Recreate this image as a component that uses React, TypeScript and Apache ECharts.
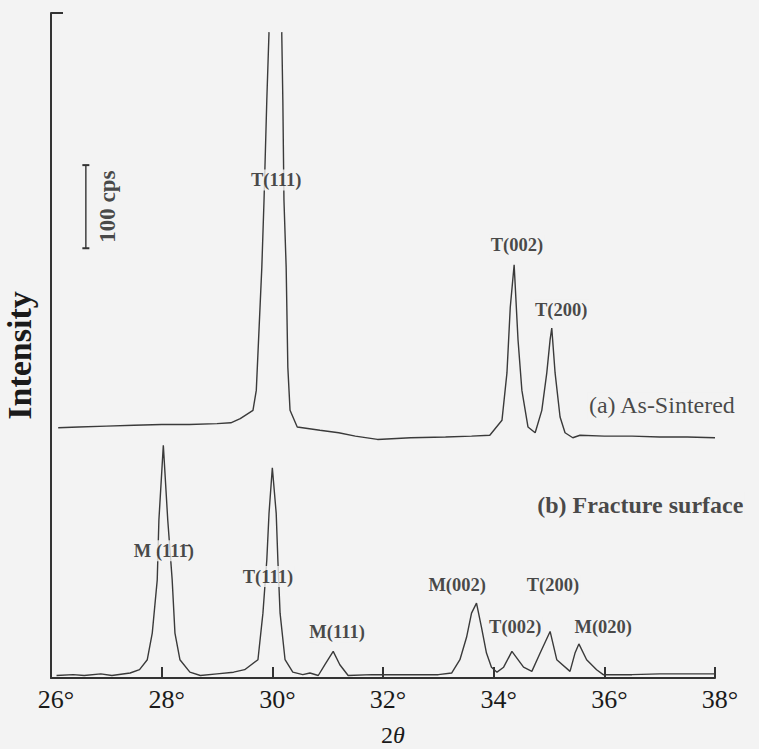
import React, { useEffect, useRef } from 'react';
import * as echarts from 'echarts';

// (a) As-Sintered pattern: 2θ (deg) and intensity (cps, offset); null = trace leaves the frame
const twoThetaA = [26.13, 26.5, 27.0, 27.5, 28.0, 28.5, 29.0, 29.25, 29.42, 29.65, 29.71, 29.81, 29.85, 29.9, 29.94, 30.05, 30.17, 30.19, 30.21, 30.25, 30.28, 30.32, 30.45, 30.86, 31.2, 31.5, 31.9, 32.5, 33.13, 33.6, 33.93, 34.15, 34.24, 34.3, 34.37, 34.44, 34.51, 34.62, 34.75, 34.87, 34.96, 35.02, 35.05, 35.11, 35.2, 35.29, 35.43, 35.56, 36.0, 36.5, 37.0, 37.5, 38.0];
const intensityA = [301, 302, 303, 304, 305, 305, 306, 307, 312, 322, 346, 494, 575, 695, 777, null, 777, 695, 575, 494, 374, 322, 302, 298, 295, 291, 287, 289, 290, 291, 292, 310, 367, 446, 497, 407, 346, 302, 295, 322, 367, 407, 421, 367, 314, 295, 289, 292, 291, 291, 290, 290, 289];

// (b) Fracture surface pattern
const twoThetaB = [26.1, 26.4, 26.6, 26.9, 27.1, 27.43, 27.6, 27.74, 27.83, 27.92, 27.95, 28.03, 28.11, 28.19, 28.24, 28.33, 28.51, 28.7, 29.0, 29.3, 29.5, 29.74, 29.83, 29.9, 29.94, 30.0, 30.07, 30.1, 30.14, 30.23, 30.37, 30.55, 30.68, 30.83, 30.95, 31.1, 31.22, 31.37, 31.8, 32.5, 33.0, 33.24, 33.39, 33.51, 33.6, 33.69, 33.78, 33.87, 33.96, 34.06, 34.18, 34.33, 34.54, 34.69, 34.84, 35.02, 35.14, 35.38, 35.47, 35.54, 35.68, 35.86, 35.98, 36.5, 37.0, 37.5, 38.0];
const intensityB = [3, 4, 3, 5, 3, 6, 10, 22, 54, 118, 190, 280, 190, 118, 54, 22, 7, 3, 5, 7, 10, 22, 78, 142, 198, 253, 198, 142, 78, 22, 7, 4, 6, 3, 16, 32, 16, 3, 4, 4, 4, 6, 22, 49, 78, 90, 61, 30, 13, 7, 13, 32, 13, 8, 30, 56, 22, 8, 30, 41, 22, 10, 4, 4, 5, 5, 5];

// peak annotations (anchor in data space)
const peakLabels = ['T(111)', 'T(002)', 'T(200)', 'M (11\u0031\u0304)', 'T(111)', 'M(111)', 'M(002)', 'T(002)', 'T(200)', 'M(020)'];
const peakLabelTheta = [30.07, 34.42, 35.22, 28.04, 29.92, 31.17, 33.34, 34.39, 35.07, 35.98];
const peakLabelIntensity = [599, 521, 443, 153, 122, 55, 112, 61, 112, 61];

// sample names
const sampleNames = ['(a) As-Sintered', '(b) Fracture surface'];
const sampleTheta = [37.04, 36.65];
const sampleIntensity = [328, 208];

// intensity scale bar: 100 cps
const scaleBarTheta = 26.63;
const scaleBarFrom = 517;
const scaleBarTo = 617;
const scaleBarText = '100 cps';
const scaleTextTheta = 27.03;
const scaleTextIntensity = 567;

// axes
const thetaMin = 26;
const thetaMax = 38;
const thetaStep = 2;
const intensityMax = 800;

const BG = '#f3f3f3';
const INK = '#1a1a1a';
const SERIF = 'Liberation Serif';

export default function App() {
  const ref = useRef<HTMLDivElement>(null);

  useEffect(() => {
    if (!ref.current) return;
    const chart = echarts.init(ref.current, undefined, { renderer: 'svg' });

    const dataA = twoThetaA.map((t, i) => [t, intensityA[i] === null ? '-' : intensityA[i]]);
    const dataB = twoThetaB.map((t, i) => [t, intensityB[i]]);

    const peakData = peakLabels.map((name, i) => ({
      name,
      value: [peakLabelTheta[i], peakLabelIntensity[i]],
    }));
    const sampleData = sampleNames.map((name, i) => ({
      name,
      value: [sampleTheta[i], sampleIntensity[i]],
      label: {
        fontSize: 24,
        fontWeight: i === 1 ? 'bold' : 'normal',
      },
    }));

    chart.setOption({
      animation: false,
      backgroundColor: BG,
      textStyle: { fontFamily: SERIF },
      grid: {
        left: 51,
        right: 44,
        top: 13,
        bottom: 71,
        containLabel: false,
        outerBoundsMode: 'none',
      },
      xAxis: {
        type: 'value',
        min: thetaMin,
        max: thetaMax,
        interval: thetaStep,
        name: '{n|2}{i|θ}',
        nameLocation: 'middle',
        nameGap: 45,
        nameTextStyle: {
          padding: [0, 0, 0, 20],
          rich: {
            n: { fontFamily: SERIF, fontSize: 24, color: INK },
            i: { fontFamily: SERIF, fontSize: 24, fontStyle: 'italic', color: INK },
          },
        },
        axisLine: { show: true, lineStyle: { color: '#333', width: 2 } },
        axisTick: { show: true, inside: true, length: 11, lineStyle: { color: '#333', width: 2 } },
        axisLabel: {
          formatter: (v: number) => `${v}°`,
          fontFamily: SERIF,
          fontSize: 26,
          color: INK,
          margin: 8,
          padding: [0, 0, 0, 10],
        },
        splitLine: { show: false },
      },
      yAxis: {
        type: 'value',
        min: 0,
        max: intensityMax,
        interval: intensityMax,
        name: 'Intensity',
        nameLocation: 'middle',
        nameGap: 15,
        nameTextStyle: {
          fontFamily: SERIF,
          fontSize: 34,
          fontWeight: 'bold',
          color: INK,
          padding: [0, 20, 0, 0],
        },
        axisLine: { show: true, lineStyle: { color: '#333', width: 2 } },
        axisTick: { show: true, inside: true, length: 12, lineStyle: { color: '#333', width: 2 } },
        axisLabel: { show: false },
        splitLine: { show: false },
      },
      series: [
        {
          type: 'line',
          name: '(a) As-Sintered',
          data: dataA,
          showSymbol: false,
          connectNulls: false,
          lineStyle: { color: '#3a3a3a', width: 1.4 },
          silent: true,
          z: 2,
        },
        {
          type: 'line',
          name: '(b) Fracture surface',
          data: dataB,
          showSymbol: false,
          lineStyle: { color: '#3a3a3a', width: 1.4 },
          silent: true,
          z: 2,
        },
        {
          type: 'line',
          name: 'scale bar',
          data: [[scaleBarTheta, scaleBarFrom], [scaleBarTheta, scaleBarTo]],
          symbol: 'rect',
          symbolSize: [7, 2],
          showSymbol: true,
          itemStyle: { color: '#333' },
          lineStyle: { color: '#333', width: 1.4 },
          silent: true,
          z: 2,
        },
        {
          type: 'scatter',
          name: 'labels',
          data: [
            ...peakData,
            ...sampleData,
            {
              name: scaleBarText,
              value: [scaleTextTheta, scaleTextIntensity],
              label: { rotate: 90, fontSize: 23, fontWeight: 'bold', backgroundColor: 'transparent' },
            },
          ],
          symbolSize: 0,
          silent: true,
          z: 5,
          label: {
            show: true,
            position: 'inside',
            formatter: '{b}',
            fontFamily: SERIF,
            fontSize: 18.5,
            fontWeight: 'bold',
            color: INK,
            backgroundColor: BG,
            padding: [1, 1],
          },
        },
      ],
    });

    return () => chart.dispose();
  }, []);

  return (
    <div
      ref={ref}
      style={{ position: 'absolute', left: 0, top: 0, width: 759, height: 749 }}
    />
  );
}
